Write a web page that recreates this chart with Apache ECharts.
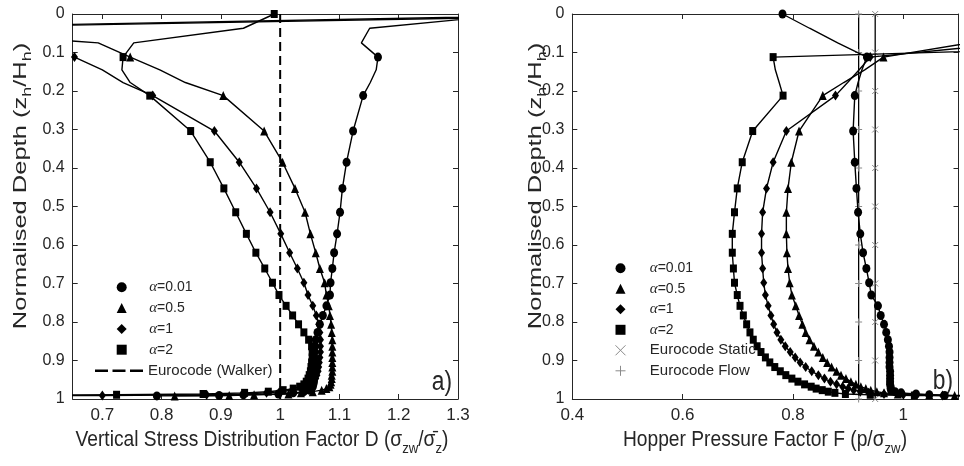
<!DOCTYPE html>
<html>
<head>
<meta charset="utf-8">
<script src="https://cdn.jsdelivr.net/npm/echarts@6/dist/echarts.min.js"></script>
<style>html,body{margin:0;padding:0;background:#fff}#c{width:964px;height:466px}</style>
</head>
<body>
<div id="c"></div>
<script>
// ---- shared normalised depths (z_h/H_h) of the marked points ----
const depths = [0, 0.112, 0.212, 0.304, 0.385, 0.453, 0.515, 0.571, 0.620, 0.661, 0.698, 0.730,
  0.758, 0.783, 0.806, 0.827, 0.846, 0.863, 0.878, 0.892, 0.905, 0.917, 0.928, 0.938, 0.947,
  0.955, 0.962, 0.968, 0.973, 0.977, 0.981, 0.984, 0.987, 0.989, 0.991, 0.992];
// unmarked intermediate line points
const midDepths = [0.037, 0.075, 0.145, 0.178];

// ---- panel a) vertical stress distribution factor D ----
const D_a001 = [1.40, 1.165, 1.140, 1.123, 1.112, 1.105, 1.101, 1.096, 1.091, 1.088, 1.085, 1.084,
  1.078, 1.072, 1.067, 1.063, 1.060, 1.059, 1.058, 1.058, 1.058, 1.058, 1.058, 1.057, 1.057,
  1.057, 1.056, 1.055, 1.053, 1.049, 1.040, 1.022, 0.997, 0.938, 0.897, 0.792];
const D_a001_mid = [1.151, 1.137, 1.162, 1.152];
const D_a05 = [1.70, 0.747, 0.904, 0.973, 1.004, 1.025, 1.042, 1.051, 1.060, 1.067, 1.075, 1.078,
  1.082, 1.084, 1.086, 1.087, 1.088, 1.088, 1.088, 1.088, 1.088, 1.088, 1.088, 1.087, 1.087,
  1.086, 1.085, 1.083, 1.078, 1.070, 1.055, 1.035, 1.014, 0.956, 0.914, 0.822];
const D_a05_mid = [0.35, 0.693, 0.797, 0.840];
const D_a1 = [1.60, 0.653, 0.785, 0.889, 0.931, 0.960, 0.983, 1.001, 1.016, 1.029, 1.040, 1.047,
  1.055, 1.061, 1.065, 1.067, 1.068, 1.068, 1.068, 1.067, 1.066, 1.065, 1.064, 1.062, 1.060,
  1.057, 1.052, 1.045, 1.035, 1.020, 0.999, 0.977, 0.938, 0.876, 0.700, 0.500];
const D_a1_mid = [0.30, 0.55, 0.700, 0.735];
const D_a2 = [0.990, 0.735, 0.780, 0.849, 0.882, 0.905, 0.925, 0.943, 0.959, 0.974, 0.987, 0.998,
  1.010, 1.021, 1.031, 1.040, 1.048, 1.053, 1.054, 1.054, 1.053, 1.052, 1.051, 1.049, 1.047,
  1.044, 1.040, 1.033, 1.022, 1.005, 0.980, 0.940, 0.870, 0.724, 0.500, 0.300];
const D_a2_mid = [0.938, 0.753, 0.733, 0.747];
const walkerD = 1.0;
const walkerDepths = [0, 1];

// ---- panel b) hopper pressure factor F ----
const F_a001 = [0.781, 0.934, 0.912, 0.909, 0.912, 0.915, 0.918, 0.922, 0.927, 0.933, 0.938, 0.942,
  0.954, 0.959, 0.965, 0.969, 0.972, 0.974, 0.975, 0.975, 0.975, 0.975, 0.976, 0.976, 0.976,
  0.976, 0.976, 0.977, 0.977, 0.978, 0.985, 0.996, 1.023, 1.047, 1.075, 1.200];
const F_a001_mid = [0.830, 0.881, 0.925, 0.918];
const F_a05 = [1.60, 0.964, 0.854, 0.811, 0.797, 0.791, 0.788, 0.788, 0.789, 0.791, 0.794, 0.798,
  0.805, 0.811, 0.817, 0.823, 0.830, 0.838, 0.846, 0.854, 0.862, 0.870, 0.879, 0.887, 0.896,
  0.905, 0.914, 0.923, 0.932, 0.941, 0.952, 0.965, 0.990, 1.047, 1.093, 1.400];
const F_a05_mid = [1.40, 1.12, 0.930, 0.892];
const F_a1 = [1.80, 0.940, 0.877, 0.788, 0.764, 0.752, 0.745, 0.743, 0.743, 0.745, 0.747, 0.750,
  0.755, 0.760, 0.765, 0.771, 0.778, 0.786, 0.795, 0.804, 0.813, 0.823, 0.834, 0.846, 0.857,
  0.868, 0.879, 0.890, 0.900, 0.910, 0.922, 0.937, 0.965, 1.000, 1.071, 1.300];
const F_a1_mid = [1.50, 1.20, 0.920, 0.899];
const F_a2 = [3.00, 0.764, 0.782, 0.727, 0.708, 0.699, 0.694, 0.690, 0.690, 0.692, 0.694, 0.699,
  0.704, 0.710, 0.716, 0.722, 0.728, 0.735, 0.742, 0.750, 0.758, 0.767, 0.777, 0.787, 0.798,
  0.809, 0.821, 0.833, 0.842, 0.853, 0.864, 0.876, 0.895, 0.940, 1.020, 1.250];
const F_a2_mid = [2.30, 1.65, 0.768, 0.775];
const euroStaticF = 0.949;
const euroFlowF = 0.919;
const euroDepths = [0, 0.1, 0.2, 0.3, 0.4, 0.5, 0.6, 0.7, 0.8, 0.9, 1.0];

// ---- ticks ----
const xTicksA = [0.7, 0.8, 0.9, 1.0, 1.1, 1.2, 1.3];
const xTicksB = [0.4, 0.6, 0.8, 1.0];

const INK = '#262626';
const FONT = "'Liberation Sans',Arial,sans-serif";
const SYM = {'α=0.01': 'circle', 'α=0.5': 'triangle', 'α=1': 'diamond', 'α=2': 'rect'};
const SYMSIZE = {'α=0.01': [8, 9], 'α=0.5': [8, 9], 'α=1': [7, 10], 'α=2': [7, 8]};
const CROSS = 'path://M0,0L10,10M10,0L0,10';
const PLUS = 'path://M5,0L5,10M0,5L10,5';
const DASHES = 'path://M0,0h13v2.5h-13zM17.5,0h13v2.5h-13zM35,0h13v2.5h-13z';
const GREYMARK = {color: 'rgba(0,0,0,0)', borderColor: '#8a8a8a', borderWidth: 1};

function buildPts(vals, mids) {
  const pts = depths.map((d, i) => ({value: [vals[i], d]}));
  mids.forEach((v, j) => pts.push({value: [v, midDepths[j]], symbol: 'none'}));
  pts.sort((a, b) => a.value[1] - b.value[1]);
  return pts;
}
function curve(name, vals, mids, gi) {
  return {
    type: 'line', name, xAxisIndex: gi * 2, yAxisIndex: gi * 2,
    data: buildPts(vals, mids), symbol: SYM[name], symbolSize: SYMSIZE[name],
    showSymbol: true, clip: true, silent: true, z: 3,
    lineStyle: {color: '#000', width: 1.4}, itemStyle: {color: '#000'}
  };
}
function vline(name, x, ys, gi, opts) {
  return Object.assign({
    type: 'line', name, xAxisIndex: gi * 2, yAxisIndex: gi * 2, clip: true, silent: true,
    data: ys.map(y => [x, y])
  }, opts);
}

function axisX(gi, pos, min, max, ticks, labels) {
  return {
    gridIndex: gi, type: 'value', position: pos, min, max,
    axisLine: {show: true, onZero: false, lineStyle: {color: INK, width: 1}},
    axisTick: {show: true, inside: true, length: 5, lineStyle: {color: INK}, customValues: ticks},
    axisLabel: {show: labels, margin: 8, fontSize: 17, fontFamily: FONT, color: INK, customValues: ticks},
    splitLine: {show: false}
  };
}
function axisY(gi, pos, labels) {
  return {
    gridIndex: gi, type: 'value', position: pos, inverse: true, min: 0, max: 1, interval: 0.1,
    axisLine: {show: true, onZero: false, lineStyle: {color: INK, width: 1}},
    axisTick: {show: true, inside: true, length: 5, lineStyle: {color: INK}},
    axisLabel: {show: labels, margin: 8, fontSize: 16, fontFamily: FONT, color: INK},
    splitLine: {show: false}
  };
}

function markerLegend(left, top, gap, spacer, data) {
  return {
    left, top, orient: 'vertical', itemWidth: 10, itemHeight: 10, itemGap: gap,
    selectedMode: false, formatter: n => n.charAt(0) === 'α'
      ? '{sp| }{g|α}{t|' + n.slice(1) + '}' : '{sp| }{e|' + n + '}',
    textStyle: {
      fontSize: 15, fontFamily: FONT, color: INK, lineHeight: 16,
      rich: {
        sp: {width: spacer, lineHeight: 16},
        g: {fontSize: 15, lineHeight: 16, fontFamily: "'Liberation Serif','DejaVu Serif',serif", fontStyle: 'italic', color: INK},
        t: {fontSize: 14, lineHeight: 16, fontFamily: FONT, color: INK},
        e: {fontSize: 15, lineHeight: 16, fontFamily: FONT, color: INK}
      }
    },
    data
  };
}
const alphaItems = [
  {name: 'α=0.01', icon: 'circle'}, {name: 'α=0.5', icon: 'triangle'},
  {name: 'α=1', icon: 'diamond'}, {name: 'α=2', icon: 'rect'}
];

const series = [
  curve('α=0.01', D_a001, D_a001_mid, 0),
  curve('α=0.5', D_a05, D_a05_mid, 0),
  curve('α=1', D_a1, D_a1_mid, 0),
  curve('α=2', D_a2, D_a2_mid, 0),
  vline('Eurocode (Walker)', walkerD, walkerDepths, 0, {
    symbol: 'none', lineStyle: {color: '#000', width: 2, type: [9, 5]}, itemStyle: {color: '#000'}
  }),
  curve('α=0.01', F_a001, F_a001_mid, 1),
  curve('α=0.5', F_a05, F_a05_mid, 1),
  curve('α=1', F_a1, F_a1_mid, 1),
  curve('α=2', F_a2, F_a2_mid, 1),
  vline('Eurocode Static', euroStaticF, euroDepths, 1, {
    symbol: CROSS, symbolSize: 6, z: 2, lineStyle: {color: '#000', width: 1.3}, itemStyle: GREYMARK
  }),
  vline('Eurocode Flow', euroFlowF, euroDepths, 1, {
    symbol: PLUS, symbolSize: 7, z: 2, lineStyle: {color: '#000', width: 1.3}, itemStyle: GREYMARK
  })
];

function stretched(x, y, text, rich, opts) {
  return Object.assign({
    type: 'text', x, y, silent: true,
    style: {text, rich, fill: INK, fontSize: 16, fontFamily: FONT, align: 'center', verticalAlign: 'middle'}
  }, opts);
}
const titleRich = {
  n: {fontSize: 16, fontFamily: FONT, fill: INK, lineHeight: 24, verticalAlign: 'middle'},
  s: {fontSize: 11, fontFamily: FONT, fill: INK, lineHeight: 12, verticalAlign: 'bottom'}
};
const yRich = {
  n: {fontSize: 17, fontFamily: FONT, fill: INK, lineHeight: 24, verticalAlign: 'middle'},
  s: {fontSize: 12, fontFamily: FONT, fill: INK, lineHeight: 12, verticalAlign: 'bottom'}
};
const yTitle = '{n|Normalised Depth (z}{s|h}{n|/H}{s|h}{n|)}';

const option = {
  animation: false,
  backgroundColor: '#fff',
  grid: [
    {left: 72.7, top: 14, width: 385.3, height: 385, containLabel: false, outerBoundsMode: 'none'},
    {left: 572.3, top: 14, width: 386.2, height: 385, containLabel: false, outerBoundsMode: 'none'}
  ],
  xAxis: [
    axisX(0, 'bottom', 0.65, 1.3, xTicksA, true),
    axisX(0, 'top', 0.65, 1.3, xTicksA, false),
    axisX(1, 'bottom', 0.4, 1.1, xTicksB, true),
    axisX(1, 'top', 0.4, 1.1, xTicksB, false)
  ],
  yAxis: [axisY(0, 'left', true), axisY(0, 'right', false), axisY(1, 'left', true), axisY(1, 'right', false)],
  legend: [
    markerLegend(111.7, 274.3, 4.8, 17.5, alphaItems),
    {
      left: 90, top: 357.7, orient: 'vertical', itemWidth: 48, itemHeight: 2.5,
      selectedMode: false,
      textStyle: {fontSize: 15, fontFamily: FONT, color: INK, lineHeight: 16},
      data: [{name: 'Eurocode (Walker)', icon: DASHES, itemStyle: {color: '#000'}}]
    },
    markerLegend(610, 255.3, 4.5, 19.3, alphaItems.concat([
      {name: 'Eurocode Static', icon: CROSS, itemStyle: GREYMARK},
      {name: 'Eurocode Flow', icon: PLUS, itemStyle: GREYMARK}
    ]))
  ],
  series,
  graphic: [
    stretched(262, 440, '{n|Vertical Stress Distribution Factor D (σ}{s|zw}{n|/σ̄}{s|z}{n|)}', titleRich, {scaleX: 1.2, scaleY: 1.4}),
    stretched(765, 440, '{n|Hopper Pressure Factor F (p/σ}{s|zw}{n|)}', titleRich, {scaleX: 1.2, scaleY: 1.4}),
    stretched(21, 186, yTitle, yRich, {rotation: Math.PI / 2, scaleX: 1.5, scaleY: 1.05}),
    stretched(536, 186, yTitle, yRich, {rotation: Math.PI / 2, scaleX: 1.5, scaleY: 1.05}),
    stretched(442, 382, '{n|a)}', {n: {fontSize: 19, fontFamily: FONT, fill: INK}}, {scaleX: 1.2, scaleY: 1.45}),
    stretched(943, 381, '{n|b)}', {n: {fontSize: 19, fontFamily: FONT, fill: INK}}, {scaleX: 1.2, scaleY: 1.45})
  ]
};

const chart = echarts.init(document.getElementById('c'), null, {renderer: 'canvas'});
chart.setOption(option);
</script>
</body>
</html>
